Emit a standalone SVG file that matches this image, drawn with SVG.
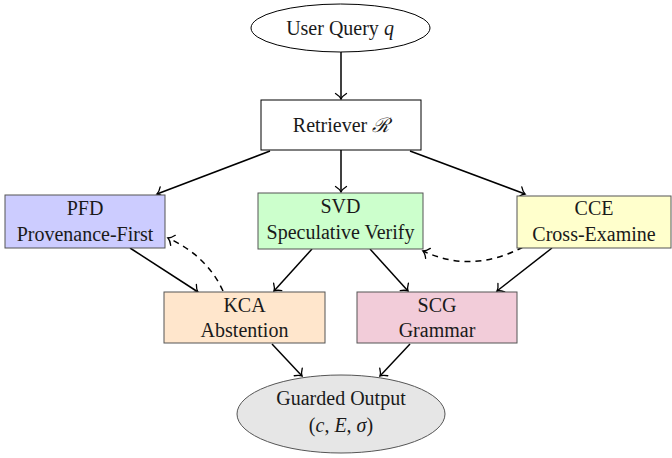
<svg xmlns="http://www.w3.org/2000/svg" width="672" height="458" viewBox="0 0 672 458">
  <defs>
    <marker id="to" viewBox="-7 -7 9 14" refX="0" refY="0" markerWidth="9" markerHeight="14" markerUnits="userSpaceOnUse" orient="auto" overflow="visible">
      <path d="M-5.5,-5.5 C-3.4,-2.2 -1.4,-0.6 0,0 C-1.4,0.6 -3.4,2.2 -5.5,5.5" fill="none" stroke="#000" stroke-width="1.3" stroke-linecap="round"/>
    </marker>
    <style>
      text { font-family: "Liberation Serif", "Times New Roman", serif; font-size: 20px; fill: #1a1a1a; text-anchor: middle; }
      .m { font-style: italic; }
      .box { stroke: #555; stroke-width: 1; }
      .edge { fill: none; stroke: #000; stroke-width: 1.5; marker-end: url(#to); }
      .dash { stroke-dasharray: 6 5; }
    </style>
  </defs>

  <g id="connectors">
    <line class="edge" x1="341" y1="52" x2="341" y2="99"/>
    <line class="edge" x1="341" y1="150" x2="341" y2="192"/>
    <line class="edge" x1="270" y1="151" x2="157" y2="194"/>
    <line class="edge" x1="410" y1="151" x2="525" y2="194"/>
    <line class="edge" x1="130" y1="248" x2="198" y2="292"/>
    <line class="edge" x1="312" y1="249" x2="274" y2="291"/>
    <line class="edge" x1="370" y1="249" x2="408" y2="291"/>
    <line class="edge" x1="552" y1="248" x2="497" y2="291"/>
    <line class="edge" x1="272" y1="344" x2="302" y2="376"/>
    <line class="edge" x1="410" y1="344" x2="380" y2="376"/>
    <path class="edge dash" d="M223,291 Q207,256 168,238"/>
    <path class="edge dash" d="M523,247 Q472,274 423,251"/>
  </g>

  <g id="query">
    <ellipse cx="340.5" cy="28" rx="89.5" ry="24" fill="#fff" stroke="#000" stroke-width="1"/>
    <text x="340" y="35">User Query <tspan class="m">q</tspan></text>
  </g>

  <g id="retriever">
    <rect x="261" y="100" width="160" height="50" fill="#fff" stroke="#000" stroke-width="1"/>
    <text x="341" y="132">Retriever <tspan class="m">ℛ</tspan></text>
  </g>

  <g id="pfd">
    <rect class="box" x="5" y="195" width="160" height="53" fill="#ccccff"/>
    <text x="85" y="215">PFD</text>
    <text x="85" y="241">Provenance-First</text>
  </g>

  <g id="svd">
    <rect class="box" x="258" y="193" width="165" height="56" fill="#ccffcc"/>
    <text x="340.5" y="213">SVD</text>
    <text x="340.5" y="239">Speculative Verify</text>
  </g>

  <g id="cce">
    <rect class="box" x="517" y="196" width="154" height="52" fill="#ffffcc"/>
    <text x="594" y="215">CCE</text>
    <text x="594" y="241">Cross-Examine</text>
  </g>

  <g id="kca">
    <rect class="box" x="164" y="292" width="161" height="51" fill="#ffe6cc"/>
    <text x="244.5" y="312">KCA</text>
    <text x="244.5" y="337">Abstention</text>
  </g>

  <g id="scg">
    <rect class="box" x="357" y="292" width="160" height="51" fill="#f2ccd9"/>
    <text x="437" y="312">SCG</text>
    <text x="437" y="337">Grammar</text>
  </g>

  <g id="output">
    <ellipse cx="341" cy="414" rx="104" ry="39" fill="#e6e6e6" stroke="#555" stroke-width="1"/>
    <text x="341" y="405">Guarded Output</text>
    <text x="341" y="432">(<tspan class="m">c</tspan>, <tspan class="m">E</tspan>, <tspan class="m">σ</tspan>)</text>
  </g>
</svg>
